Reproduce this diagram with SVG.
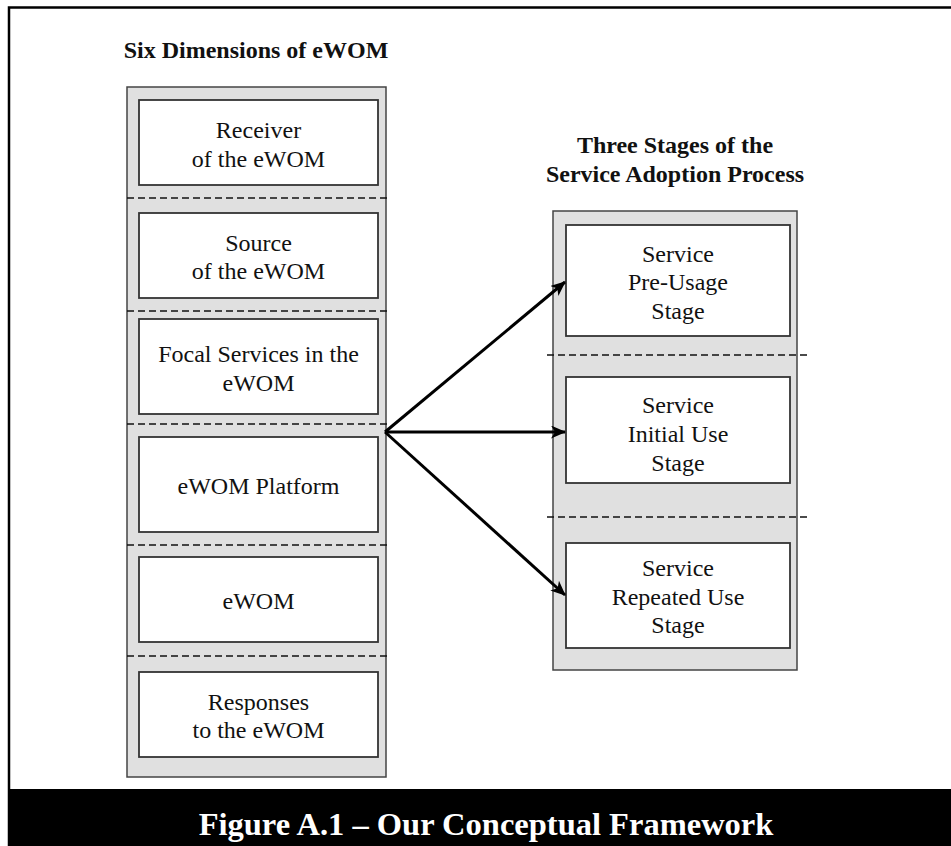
<svg xmlns="http://www.w3.org/2000/svg" width="951" height="846" viewBox="0 0 951 846">
<style>
.t{font-family:"Liberation Serif","Times New Roman",serif;font-size:24px;fill:#111;text-anchor:middle}
.h{font-family:"Liberation Serif","Times New Roman",serif;font-size:24px;font-weight:bold;fill:#111;text-anchor:middle}
.col{fill:#e0e0e0;stroke:#444;stroke-width:1.5}
.box{fill:#fff;stroke:#333;stroke-width:1.8}
.dash{stroke:#111;stroke-width:1.5;stroke-dasharray:7 4;fill:none}
.arr{stroke:#000;stroke-width:3;fill:none;marker-end:url(#ah)}
</style>
<defs>
<marker id="ah" viewBox="0 0 15 13" refX="14" refY="6.5" markerWidth="15" markerHeight="13" markerUnits="userSpaceOnUse" orient="auto">
<path d="M0,0 L15,6.5 L0,13 L4,6.5 z" fill="#000"/>
</marker>
</defs>
<rect x="0" y="0" width="951" height="846" fill="#fff"/>
<path d="M9,846 L9,7.5 L951,7.5" fill="none" stroke="#000" stroke-width="2.5"/>
<rect x="9" y="789" width="942" height="57" fill="#000"/>
<text x="486" y="835" font-family="'Liberation Serif','Times New Roman',serif" font-size="32.5" font-weight="bold" fill="#fff" text-anchor="middle">Figure A.1 – Our Conceptual Framework</text>

<g id="left-column">
<text class="h" x="256" y="58">Six Dimensions of eWOM</text>
<rect class="col" x="127" y="87" width="259" height="690"/>
</g>
<g id="right-column">
<text class="h" x="675" y="153">Three Stages of the</text>
<text class="h" x="675" y="182">Service Adoption Process</text>
<rect class="col" x="553" y="211" width="244" height="459"/>
</g>

<g id="dividers">
<line class="dash" x1="127" y1="198" x2="390" y2="198"/>
<line class="dash" x1="127" y1="311" x2="390" y2="311"/>
<line class="dash" x1="127" y1="424" x2="390" y2="424"/>
<line class="dash" x1="127" y1="545" x2="390" y2="545"/>
<line class="dash" x1="127" y1="656" x2="390" y2="656"/>
<line class="dash" x1="547" y1="355" x2="810" y2="355"/>
<line class="dash" x1="547" y1="517" x2="810" y2="517"/>
</g>

<g id="receiver">
<rect class="box" x="139" y="100" width="239" height="85"/>
<text class="t" x="258.5" y="138">Receiver</text>
<text class="t" x="258.5" y="167">of the eWOM</text>
</g>
<g id="source">
<rect class="box" x="139" y="213" width="239" height="85"/>
<text class="t" x="258.5" y="251">Source</text>
<text class="t" x="258.5" y="279">of the eWOM</text>
</g>
<g id="focal">
<rect class="box" x="139" y="319" width="239" height="95"/>
<text class="t" x="258.5" y="362">Focal Services in the</text>
<text class="t" x="258.5" y="391">eWOM</text>
</g>
<g id="platform">
<rect class="box" x="139" y="437" width="239" height="95"/>
<text class="t" x="258.5" y="494">eWOM Platform</text>
</g>
<g id="ewom">
<rect class="box" x="139" y="557" width="239" height="85"/>
<text class="t" x="258.5" y="609">eWOM</text>
</g>
<g id="responses">
<rect class="box" x="139" y="672" width="239" height="85"/>
<text class="t" x="258.5" y="710">Responses</text>
<text class="t" x="258.5" y="738">to the eWOM</text>
</g>

<g id="pre-usage">
<rect class="box" x="566" y="225" width="224" height="111"/>
<text class="t" x="678" y="262">Service</text>
<text class="t" x="678" y="290">Pre-Usage</text>
<text class="t" x="678" y="319">Stage</text>
</g>
<g id="initial-use">
<rect class="box" x="566" y="377" width="224" height="106"/>
<text class="t" x="678" y="413">Service</text>
<text class="t" x="678" y="442">Initial Use</text>
<text class="t" x="678" y="471">Stage</text>
</g>
<g id="repeated-use">
<rect class="box" x="566" y="543" width="224" height="105"/>
<text class="t" x="678" y="576">Service</text>
<text class="t" x="678" y="605">Repeated Use</text>
<text class="t" x="678" y="633">Stage</text>
</g>

<g id="connectors">
<line class="arr" x1="385" y1="432" x2="565" y2="282"/>
<line class="arr" x1="385" y1="432" x2="565" y2="432"/>
<line class="arr" x1="385" y1="432" x2="565" y2="595"/>
</g>
</svg>
